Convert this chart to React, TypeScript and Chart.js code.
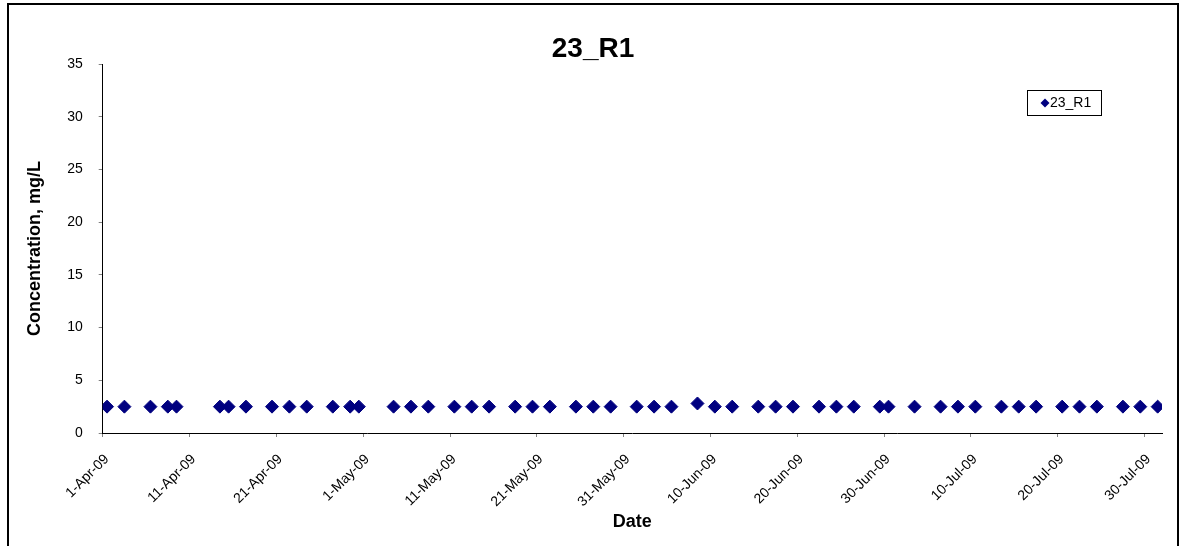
import React, { useEffect, useRef } from 'react';
import { Chart, registerables } from 'chart.js';

Chart.register(...registerables);

// ---------------- data ----------------
const chartTitle = '23_R1';
const seriesName = '23_R1';
const xAxisTitle = 'Date';
const yAxisTitle = 'Concentration, mg/L';

const sampleDates = [
  '2009-04-01', '2009-04-03', '2009-04-06', '2009-04-08', '2009-04-09',
  '2009-04-14', '2009-04-15', '2009-04-17', '2009-04-20', '2009-04-22',
  '2009-04-24', '2009-04-27', '2009-04-29', '2009-04-30', '2009-05-04',
  '2009-05-06', '2009-05-08', '2009-05-11', '2009-05-13', '2009-05-15',
  '2009-05-18', '2009-05-20', '2009-05-22', '2009-05-25', '2009-05-27',
  '2009-05-29', '2009-06-01', '2009-06-03', '2009-06-05', '2009-06-08',
  '2009-06-10', '2009-06-12', '2009-06-15', '2009-06-17', '2009-06-19',
  '2009-06-22', '2009-06-24', '2009-06-26', '2009-06-29', '2009-06-30',
  '2009-07-03', '2009-07-06', '2009-07-08', '2009-07-10', '2009-07-13',
  '2009-07-15', '2009-07-17', '2009-07-20', '2009-07-22', '2009-07-24',
  '2009-07-27', '2009-07-29', '2009-07-31',
];

const concentrations = [
  2.5, 2.5, 2.5, 2.5, 2.5,
  2.5, 2.5, 2.5, 2.5, 2.5,
  2.5, 2.5, 2.5, 2.5, 2.5,
  2.5, 2.5, 2.5, 2.5, 2.5,
  2.5, 2.5, 2.5, 2.5, 2.5,
  2.5, 2.5, 2.5, 2.5, 2.8,
  2.5, 2.5, 2.5, 2.5, 2.5,
  2.5, 2.5, 2.5, 2.5, 2.5,
  2.5, 2.5, 2.5, 2.5, 2.5,
  2.5, 2.5, 2.5, 2.5, 2.5,
  2.5, 2.5, 2.5,
];

const xTickLabels = [
  '1-Apr-09', '11-Apr-09', '21-Apr-09', '1-May-09', '11-May-09', '21-May-09',
  '31-May-09', '10-Jun-09', '20-Jun-09', '30-Jun-09', '10-Jul-09', '20-Jul-09', '30-Jul-09',
];

const axisStart = '2009-04-01';
const axisEnd = '2009-08-01';
const yMin = 0;
const yMax = 35;
const yStep = 5;

// ---------------- helpers ----------------
const MONTHS: Record<string, number> = {
  Jan: 0, Feb: 1, Mar: 2, Apr: 3, May: 4, Jun: 5, Jul: 6, Aug: 7, Sep: 8, Oct: 9, Nov: 10, Dec: 11,
};
const DAY = 86400000;
const isoToUtc = (iso: string) => {
  const [y, m, d] = iso.split('-').map(Number);
  return Date.UTC(y, m - 1, d);
};
const originUtc = isoToUtc(axisStart);
const dayOfIso = (iso: string) => (isoToUtc(iso) - originUtc) / DAY;
const dayOfLabel = (lbl: string) => {
  const [d, mon, yy] = lbl.split('-');
  return (Date.UTC(2000 + Number(yy), MONTHS[mon], Number(d)) - originUtc) / DAY;
};
// Excel date axis plots each day in the middle of its slot
const CATEGORY_CENTER = 0.5;

const FONT = "'Liberation Sans', Arial, Helvetica, sans-serif";
const NAVY = '#000080';

const legendPlugin = {
  id: 'boxLegend',
  afterDraw(chart: any) {
    const ctx = chart.ctx as CanvasRenderingContext2D;
    const ds = chart.data.datasets[0];
    ctx.save();
    ctx.strokeStyle = '#000';
    ctx.lineWidth = 1;
    ctx.strokeRect(1027.5, 90.5, 74, 25);
    const cx = 1045;
    const cy = 103;
    const r = 4.5;
    ctx.fillStyle = ds.backgroundColor;
    ctx.beginPath();
    ctx.moveTo(cx - r, cy);
    ctx.lineTo(cx, cy - r);
    ctx.lineTo(cx + r, cy);
    ctx.lineTo(cx, cy + r);
    ctx.closePath();
    ctx.fill();
    ctx.font = `14px ${FONT}`;
    ctx.fillStyle = '#000';
    ctx.textBaseline = 'middle';
    ctx.textAlign = 'left';
    ctx.fillText(ds.label, 1050, cy);
    ctx.restore();
  },
};

export default function App() {
  const canvasRef = useRef<HTMLCanvasElement | null>(null);

  useEffect(() => {
    const canvas = canvasRef.current;
    if (!canvas) return;
    const points = sampleDates.map((d, i) => ({
      x: dayOfIso(d) + CATEGORY_CENTER,
      y: concentrations[i],
    }));
    const tickDays = xTickLabels.map(dayOfLabel);
    const labelByDay = new Map<number, string>();
    xTickLabels.forEach((l, i) => labelByDay.set(tickDays[i], l));

    const chart = new Chart(canvas, {
      type: 'scatter',
      data: {
        datasets: [
          {
            label: seriesName,
            data: points,
            showLine: false,
            pointStyle: 'rectRot',
            pointRadius: 6.5,
            pointHoverRadius: 6.5,
            borderWidth: 1,
            backgroundColor: NAVY,
            borderColor: NAVY,
          },
        ],
      },
      options: {
        responsive: false,
        maintainAspectRatio: false,
        animation: false,
        events: [],
        layout: { padding: { left: 24, right: 20, top: 0, bottom: 0 } },
        plugins: {
          legend: { display: false },
          tooltip: { enabled: false },
          title: {
            display: true,
            text: chartTitle,
            color: '#000',
            font: { family: FONT, size: 28, weight: 'bold', lineHeight: 1 },
            padding: { top: 35.6, bottom: 0.4 },
          },
        },
        scales: {
          x: {
            type: 'linear',
            min: dayOfIso(axisStart),
            max: dayOfIso(axisEnd),
            afterBuildTicks: (scale: any) => {
              scale.ticks = tickDays.map((v) => ({ value: v }));
            },
            afterFit: (scale: any) => {
              scale.height = 113;
            },
            ticks: {
              autoSkip: false,
              minRotation: 45,
              maxRotation: 45,
              padding: 14,
              labelOffset: 4,
              color: '#000',
              font: { family: FONT, size: 14 },
              callback: (v: any) => labelByDay.get(Number(v)) ?? '',
            },
            grid: {
              display: true,
              drawOnChartArea: false,
              drawTicks: true,
              tickLength: 4,
              color: '#808080',
            },
            border: { display: true, color: '#000', width: 1 },
            title: {
              display: true,
              text: xAxisTitle,
              color: '#000',
              font: { family: FONT, size: 18, weight: 'bold', lineHeight: 1.2 },
              padding: { top: 0, bottom: 12.8 },
            },
          },
          y: {
            type: 'linear',
            min: yMin,
            max: yMax,
            afterFit: (scale: any) => {
              scale.width = 78.7;
            },
            ticks: {
              stepSize: yStep,
              padding: 16,
              color: '#000',
              font: { family: FONT, size: 14 },
            },
            grid: {
              display: true,
              drawOnChartArea: false,
              drawTicks: true,
              tickLength: 4,
              color: '#808080',
            },
            border: { display: true, color: '#000', width: 1 },
            title: {
              display: true,
              text: yAxisTitle,
              color: '#000',
              font: { family: FONT, size: 18, weight: 'bold', lineHeight: 1.2 },
              padding: { top: 0, bottom: 0 },
            },
          },
        },
      },
      plugins: [legendPlugin],
    } as any);

    return () => chart.destroy();
  }, []);

  return (
    <div
      style={{
        position: 'fixed',
        left: 0,
        top: 0,
        width: 1182,
        height: 546,
        overflow: 'hidden',
        background: '#fff',
      }}
    >
      <canvas
        ref={canvasRef}
        width={1182}
        height={546}
        style={{ display: 'block', position: 'absolute', left: 0, top: 0, width: 1182, height: 546 }}
      />
      <div
        style={{
          position: 'absolute',
          left: 7,
          top: 3,
          width: 1172,
          height: 620,
          border: '2px solid #000',
          boxSizing: 'border-box',
          pointerEvents: 'none',
        }}
      />
    </div>
  );
}
